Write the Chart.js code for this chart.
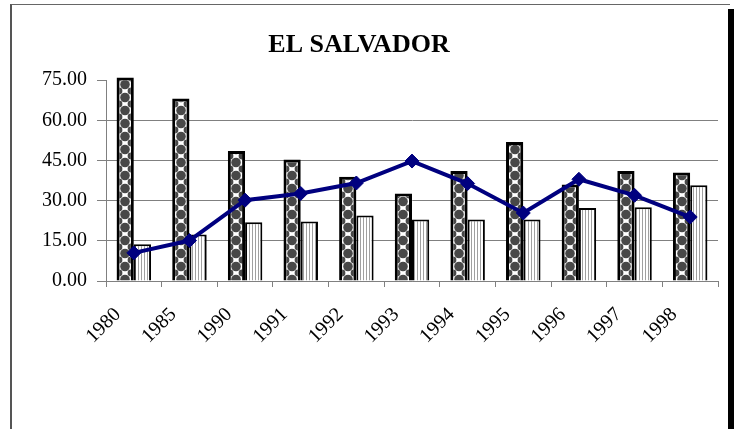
<!DOCTYPE html>
<html>
<head>
<meta charset="utf-8">
<script src="https://cdn.jsdelivr.net/npm/chart.js@4/dist/chart.umd.min.js"></script>
<style>
  body { margin: 0; background: #fff; }
  #wrap { position: relative; width: 738px; height: 429px; overflow: hidden; }
  #frame { position: absolute; left: 10px; top: 4px; width: 718px; height: 440px;
           border-top: 1px solid #666; border-left: 2px solid #555; pointer-events: none; }
  #shadow { position: absolute; left: 728px; top: 9px; width: 6px; height: 430px; background: #000; }
  canvas { position: absolute; left: 0; top: 0; }
</style>
</head>
<body>
<div id="wrap">
  <canvas id="chart" width="738" height="429"></canvas>
  <div id="frame"></div>
  <div id="shadow"></div>
</div>
<script>
// El Salvador series
const years = ['1980', '1985', '1990', '1991', '1992', '1993', '1994', '1995', '1996', '1997', '1998'];
const seriesA = [76.0, 68.2, 48.6, 45.4, 38.9, 32.7, 41.1, 51.9, 36.0, 41.1, 40.5];
const seriesB = [13.7, 17.4, 21.9, 22.2, 24.5, 23.0, 23.0, 23.0, 27.3, 27.5, 35.8];
const lineValues = [10.5, 15.1, 30.2, 32.7, 36.6, 44.8, 36.4, 25.4, 38.0, 32.0, 23.9];
const yTicks = [0, 15, 30, 45, 60, 75];

const catPct = 0.62;

// dotted tile for the first bars
const dotTile = document.createElement('canvas');
dotTile.width = 12; dotTile.height = 13;
(function () {
    const c = dotTile.getContext('2d');
    c.fillStyle = '#fff';
    c.fillRect(0, 0, 12, 13);
    c.fillStyle = '#484848';
    c.beginPath();
    c.arc(6, 6.5, 4.8, 0, Math.PI * 2);
    c.fill();
    [[0, 0], [12, 0], [0, 13], [12, 13]].forEach(p => {
        c.beginPath();
        c.arc(p[0], p[1], 3.4, 0, Math.PI * 2);
        c.fill();
    });
})();

// vertical stripes for the second bars
const stripeTile = document.createElement('canvas');
stripeTile.width = 3; stripeTile.height = 4;
(function () {
    const c = stripeTile.getContext('2d');
    c.fillStyle = '#fff';
    c.fillRect(0, 0, 3, 4);
    c.fillStyle = '#a0a0a0';
    c.fillRect(0, 0, 1, 4);
})();

function dotFill(context) {
    const chart = context.chart;
    const pat = chart.ctx.createPattern(dotTile, 'repeat');
    const xs = chart.scales.x;
    if (context.dataIndex === undefined || !xs) return pat;
    const catW = xs.width / years.length;
    const cx = xs.getPixelForValue(context.dataIndex) - catW * catPct / 4;
    pat.setTransform(new DOMMatrix().translate(Math.round(cx) - 6, 0));
    return pat;
}

function stripeFill(context) {
    return context.chart.ctx.createPattern(stripeTile, 'repeat');
}

const serif = "'Liberation Serif', 'Times New Roman', serif";

const ctx = document.getElementById('chart');
new Chart(ctx, {
    data: {
        labels: years,
        datasets: [
        {
            type: 'line',
            data: lineValues,
            order: 0,
            borderColor: '#00007f',
            backgroundColor: '#00007f',
            borderWidth: 4,
            pointStyle: 'rectRot',
            pointRadius: 7,
            pointBorderWidth: 1,
            tension: 0
        },
        {
            type: 'bar',
            data: seriesA,
            order: 1,
            backgroundColor: dotFill,
            borderColor: '#000',
            borderWidth: 3,
            categoryPercentage: catPct,
            barPercentage: 1,
            clip: false
        },
        {
            type: 'bar',
            data: seriesB,
            order: 2,
            backgroundColor: stripeFill,
            borderColor: '#000',
            borderWidth: 2,
            categoryPercentage: catPct,
            barPercentage: 1,
            clip: false
        }
        ]
    },
    options: {
        responsive: false,
        animation: false,
        devicePixelRatio: 1,
        layout: {
            padding: { top: 20, right: 20, left: 0, bottom: 0 }
        },
        scales: {
            x: {
                grid: {
                    offset: true,
                    drawOnChartArea: false,
                    drawTicks: true,
                    tickLength: 6,
                    color: '#808080'
                },
                border: { display: true, color: '#808080', width: 1 },
                ticks: {
                    minRotation: 45,
                    maxRotation: 45,
                    autoSkip: false,
                    labelOffset: -16,
                    padding: 16,
                    color: '#000',
                    font: { family: serif, size: 20 }
                },
                afterFit: scale => { scale.height = 148; }
            },
            y: {
                min: 0,
                max: 75,
                afterBuildTicks: scale => { scale.ticks = yTicks.map(v => ({value: v})); },
                grid: {
                    color: c => (c.tick && c.tick.value === 75) ? 'rgba(0,0,0,0)' : '#808080',
                    tickColor: '#808080',
                    tickLength: 9,
                    lineWidth: 1
                },
                border: { display: true, color: '#808080', width: 1 },
                ticks: {
                    padding: 10,
                    color: '#000',
                    font: { family: serif, size: 20 },
                    callback: v => Number(v).toFixed(2)
                },
                afterFit: scale => { scale.width = 106; }
            }
        },
        plugins: {
            legend: { display: false },
            tooltip: { enabled: false },
            title: {
                display: true,
                text: 'EL SALVADOR',
                color: '#000',
                padding: { top: 10, bottom: 19 },
                font: { family: serif, size: 26, weight: 'bold' }
            }
        }
    }
});
</script>
</body>
</html>
